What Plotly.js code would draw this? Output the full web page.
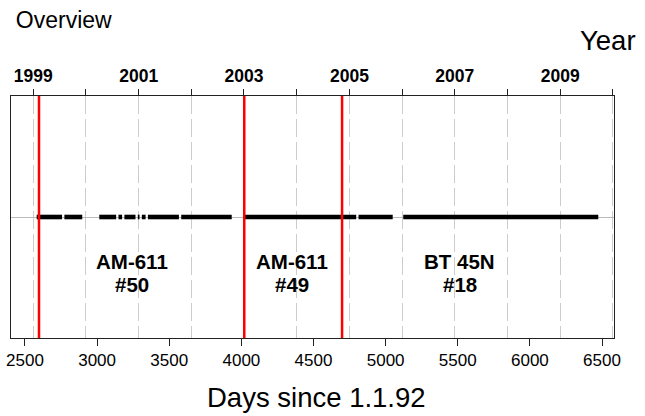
<!DOCTYPE html>
<html>
<head>
<meta charset="utf-8">
<script src="https://cdn.plot.ly/plotly-3.0.1.min.js"></script>
<style>html,body{margin:0;padding:0;background:#fff;}#chart{width:645px;height:416px;}</style>
</head>
<body>
<div id="chart"></div>
<script>
// ---- data ----
// observation segments (days since 1.1.92), gaps between them are missing data
var segStart = [2581, 2773, 3015, 3148, 3189, 3282, 3310, 3352, 3583, 4025, 4812, 5122];
var segEnd   = [2757, 2897, 3132, 3173, 3266, 3294, 3336, 3567, 3933, 4796, 5049, 6474];
// instrument change dates (red lines)
var changeDays = [2597, 4020, 4698];
// instrument labels
var labelDays  = [3245, 4353, 5512];
var labelLine1 = ['AM-611', 'AM-611', 'BT 45N'];
var labelLine2 = ['#50', '#49', '#18'];
// year axis (1 Jan of each year, days since 1.1.92)
var yearDays   = [2557, 2922, 3288, 3653, 4018, 4383, 4749, 5114, 5479, 5844, 6210, 6575];
var yearLabels = ['1999', '', '2001', '', '2003', '', '2005', '', '2007', '', '2009', ''];
// bottom axis ticks
var dayTicks = [2500, 3000, 3500, 4000, 4500, 5000, 5500, 6000, 6500];

// ---- build ----
var lx = [], ly = [];
for (var i = 0; i < segStart.length; i++) {
  lx.push(segStart[i], segEnd[i], null);
  ly.push(0, 0, null);
}
var FONT = 'Liberation Sans, Arial, Helvetica, sans-serif';
var XR = [2403, 6583];

var traces = [
  {x: lx, y: ly, type: 'scatter', mode: 'lines', line: {color: '#000', width: 4.6},
   connectgaps: false, hoverinfo: 'skip', showlegend: false},
  {x: yearDays, y: yearDays.map(function(){return 0;}), xaxis: 'x2', type: 'scatter', mode: 'markers',
   marker: {opacity: 0}, hoverinfo: 'skip', showlegend: false}
];

var shapes = changeDays.map(function(d){
  return {type: 'line', xref: 'x', yref: 'paper', x0: d, x1: d, y0: 0, y1: 1,
          line: {color: '#ff0000', width: 2.5}, layer: 'above'};
});

var annotations = [];
for (var j = 0; j < labelDays.length; j++) {
  annotations.push({x: labelDays[j], y: -0.364, xref: 'x', yref: 'y', text: labelLine1[j],
    showarrow: false, xanchor: 'center', yanchor: 'middle',
    font: {family: FONT, size: 20.5, color: '#000', weight: 'bold'}});
  annotations.push({x: labelDays[j], y: -0.558, xref: 'x', yref: 'y', text: labelLine2[j],
    showarrow: false, xanchor: 'center', yanchor: 'middle',
    font: {family: FONT, size: 20.5, color: '#000', weight: 'bold'}});
}
annotations.push({x: 1.0406, y: 1.2298, xref: 'paper', yref: 'paper', text: 'Year',
  showarrow: false, xanchor: 'right', yanchor: 'middle',
  font: {family: FONT, size: 27.5, color: '#000'}});
annotations.push({x: 0.506, y: -0.244, xref: 'paper', yref: 'paper', text: 'Days since 1.1.92',
  showarrow: false, xanchor: 'center', yanchor: 'middle',
  font: {family: FONT, size: 27.5, color: '#000'}});

var layout = {
  width: 645, height: 416,
  margin: {l: 11, r: 31, t: 96, b: 78},
  paper_bgcolor: '#fff', plot_bgcolor: '#fff',
  showlegend: false,
  title: {text: 'Overview', x: 0.0245, xref: 'container', xanchor: 'left',
          y: 0.952, yref: 'container', yanchor: 'middle',
          font: {family: FONT, size: 23, color: '#000'}},
  xaxis: {range: XR, tickvals: dayTicks, ticktext: dayTicks.map(String),
          ticks: 'outside', ticklen: 7, tickcolor: '#222', tickwidth: 1,
          showline: true, linecolor: '#222', linewidth: 1, mirror: true,
          showgrid: false, zeroline: false,
          tickfont: {family: FONT, size: 17, color: '#000'}},
  xaxis2: {overlaying: 'x', side: 'top', range: XR, tickvals: yearDays, ticktext: yearLabels,
           ticks: 'outside', ticklen: 6, tickcolor: '#222', tickwidth: 1,
           showline: false, showgrid: true, gridcolor: '#cccccc', gridwidth: 1, griddash: '18px,5px',
           zeroline: false,
           tickfont: {family: FONT, size: 17.5, color: '#000', weight: 'bold'}},
  yaxis: {range: [-1, 1], showticklabels: false, ticks: '', showgrid: false,
          zeroline: true, zerolinecolor: '#bbbbbb', zerolinewidth: 1,
          showline: true, linecolor: '#222', linewidth: 1, mirror: true},
  shapes: shapes,
  annotations: annotations
};

Plotly.newPlot('chart', traces, layout, {displayModeBar: false, staticPlot: true});
</script>
</body>
</html>
